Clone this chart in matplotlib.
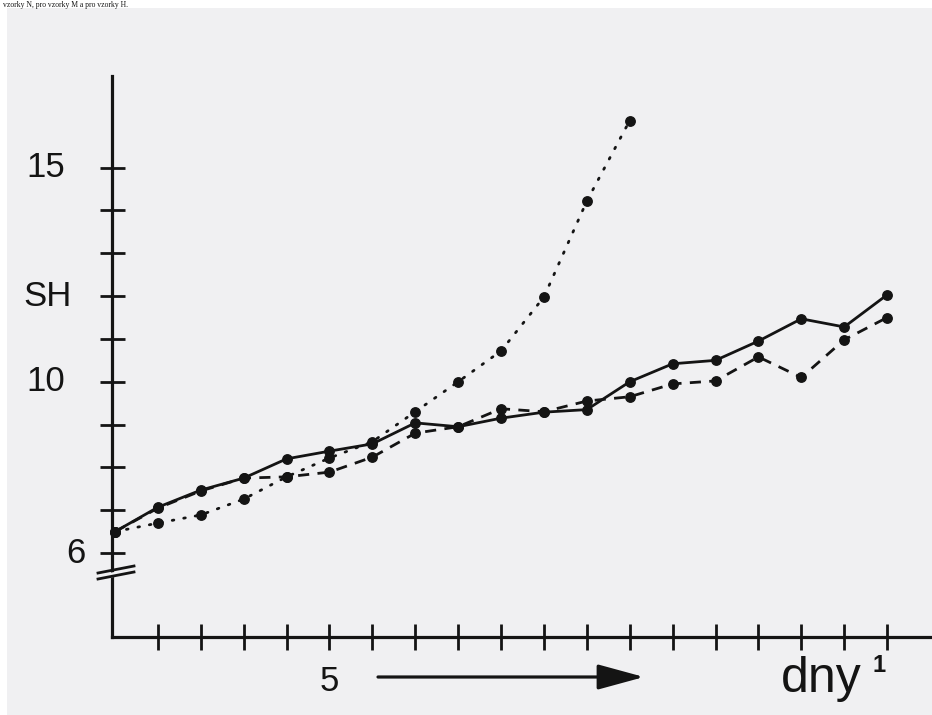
import matplotlib
matplotlib.use("Agg")
import matplotlib.pyplot as plt
from matplotlib.patches import Rectangle, Polygon
from matplotlib.lines import Line2D

# ---------------- data ----------------
days = list(range(0, 19))
sh_solid = [6.5, 7.07, 7.47, 7.75, 8.2, 8.38, 8.55, 9.04, 8.95, 9.15, 9.29, 9.35,
            10.0, 10.42, 10.5, 10.95, 11.47, 11.28, 12.03]
sh_dashed = [6.5, 7.05, 7.45, 7.75, 7.78, 7.89, 8.24, 8.8, 8.95, 9.37, 9.3, 9.55,
             9.65, 9.95, 10.02, 10.58, 10.1, 10.98, 11.5]
days_dotted = list(range(0, 13))
sh_dotted = [6.5, 6.7, 6.89, 7.26, 7.78, 8.22, 8.6, 9.3, 10.0, 10.72, 11.98, 14.22, 16.1]

x_ticks = list(range(1, 19))
x_label_value = 5
x_label_text = "5"
y_ticks = list(range(6, 16))
y_label_values = [15, 12, 10, 6]
y_label_texts = ["15", "SH", "10", "6"]
x_axis_title = "dny"
x_axis_title_mark = "1"
top_caption = "vzorky N, pro vzorky M a pro vzorky H."

# ---------------- figure ----------------
W, H = 932, 715
fig = plt.figure(figsize=(W / 100, H / 100), dpi=100)
fig.patch.set_facecolor("white")

def fx(px):
    return px / W

def fy(py):
    return 1 - py / H

ink = "#141414"
paper = "#f0f0f2"
font = "Liberation Sans"

# scanned paper
fig.patches.append(Rectangle((fx(7), 0), 1 - fx(7), fy(8), transform=fig.transFigure,
                             facecolor=paper, edgecolor="none", zorder=-10))

# caption remnant in the white band at the very top
fig.text(fx(3), fy(1), top_caption, fontsize=5.5, family="Liberation Serif",
         color=ink, ha="left", va="top")

ax = fig.add_axes([fx(112), fy(637), fx(930) - fx(112), fy(76) - fy(637)])
ax.set_facecolor("none")
ax.set_xlim(-0.07, 19.0)
ax.set_ylim(4.04, 17.14)

for s in ["top", "right"]:
    ax.spines[s].set_visible(False)
for s in ["left", "bottom"]:
    ax.spines[s].set_linewidth(2.3)
    ax.spines[s].set_color(ink)

ax.set_xticks(x_ticks)
ax.set_xticklabels([""] * len(x_ticks))
ax.set_yticks(y_ticks)
ax.set_yticklabels([""] * len(y_ticks))
ax.tick_params(axis="both", direction="inout", width=2.0, color=ink)
ax.tick_params(axis="x", length=19)
ax.tick_params(axis="y", length=18)

# series
ax.plot(days, sh_solid, color=ink, lw=2.0, marker="o", ms=6.8, mec=ink, mfc=ink,
        zorder=4, clip_on=False)
ax.plot(days, sh_dashed, color=ink, lw=2.0, ls=(0, (4, 3)), marker="o", ms=6.8,
        mec=ink, mfc=ink, zorder=3, clip_on=False)
ax.plot(days_dotted, sh_dotted, color=ink, lw=2.0, ls=(0, (0.6, 3.6)),
        dash_capstyle="round", marker="o", ms=6.8, mec=ink, mfc=ink, zorder=3,
        clip_on=False)

# y labels
ytr = ax.get_yaxis_transform()
y_right_px = {"15": 65, "10": 65, "SH": 72, "6": 86}
for v, t in zip(y_label_values, y_label_texts):
    xr = (y_right_px[t] - 112) / (930 - 112)
    ax.text(xr, v, t, transform=ytr, ha="right", va="center", fontsize=25,
            family=font, color=ink)

# x label "5"
xtr = ax.get_xaxis_transform()
ax.text(x_label_value, (637 - 665) / (637 - 76), x_label_text, transform=xtr,
        ha="center", va="top", fontsize=25, family=font, color=ink)

# "dny" title with mark
fig.text(fx(781), fy(692), x_axis_title, fontsize=36, family=font, color=ink,
         ha="left", va="baseline")
fig.text(fx(873), fy(672), x_axis_title_mark, fontsize=17, family=font,
         fontweight="bold", color=ink, ha="left", va="baseline")

# arrow
ax.annotate("", xy=(fx(644), fy(677)), xytext=(fx(378), fy(677)),
            xycoords="figure fraction", textcoords="figure fraction",
            arrowprops=dict(arrowstyle="-|>,head_length=1.1,head_width=0.3",
                            mutation_scale=26, lw=2.3, color=ink,
                            shrinkA=0, shrinkB=0))

# axis break marks
gap = Polygon([(fx(104), fy(574)), (fx(124), fy(570)), (fx(124), fy(575)), (fx(104), fy(579))],
              closed=True, transform=fig.transFigure, facecolor=paper,
              edgecolor="none", zorder=20)
fig.patches.append(gap)
for off in (0, 6):
    fig.lines.append(Line2D([fx(98), fx(134)], [fy(573 + off), fy(566 + off)],
                            transform=fig.transFigure, color=ink, lw=2.0, zorder=21))

fig.savefig("out.png", dpi=100, facecolor=fig.get_facecolor())
